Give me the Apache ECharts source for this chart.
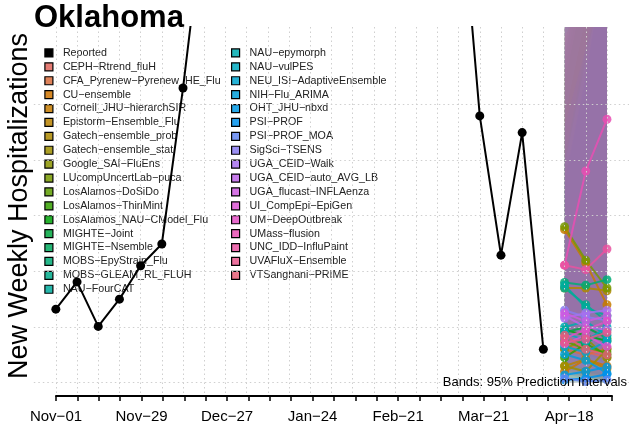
<!DOCTYPE html>
<html>
<head>
<meta charset="utf-8">
<script src="https://cdn.jsdelivr.net/npm/echarts@6/dist/echarts.min.js"></script>
<style>
  html, body { margin: 0; padding: 0; background: #fff; }
  #chart { width: 629px; height: 431px; }
</style>
</head>
<body>
<div id="chart"></div>
<script>
// weekly dates on the x axis (labels every 4 weeks)
var weeks = ['Nov-01', 'Nov-08', 'Nov-15', 'Nov-22', 'Nov-29', 'Dec-06', 'Dec-13', 'Dec-20',
  'Dec-27', 'Jan-03', 'Jan-10', 'Jan-17', 'Jan-24', 'Jan-31', 'Feb-07', 'Feb-14', 'Feb-21',
  'Feb-28', 'Mar-07', 'Mar-14', 'Mar-21', 'Mar-28', 'Apr-04', 'Apr-11', 'Apr-18', 'Apr-25', 'May-02'];

// reported weekly hospitalizations, Nov-01 .. Apr-11
var reported = [132, 181, 101, 150, 210, 249, 529, 845, 1150, 1480, 1620, 1540, 1400, 1500,
  1650, 1560, 1380, 1200, 1050, 925, 479, 229, 449, 60];

var forecastDates = ['Apr-18', 'Apr-25', 'May-02'];

var models = ['CEPH-Rtrend_fluH', 'CFA_Pyrenew-Pyrenew_HE_Flu', 'CU-ensemble', 'Cornell_JHU-hierarchSIR',
  'Epistorm-Ensemble_Flu', 'Gatech-ensemble_prob', 'Gatech-ensemble_stat', 'Google_SAI-FluEns',
  'LUcompUncertLab-puca', 'LosAlamos-DoSiDo', 'LosAlamos-ThinMint', 'LosAlamos_NAU-CModel_Flu',
  'MIGHTE-Joint', 'MIGHTE-Nsemble', 'MOBS-EpyStrain_Flu', 'MOBS-GLEAM_RL_FLUH', 'NAU-FourCAT',
  'NAU-epymorph', 'NAU-vulPES', 'NEU_ISI-AdaptiveEnsemble', 'NIH-Flu_ARIMA', 'OHT_JHU-nbxd',
  'PSI-PROF', 'PSI-PROF_MOA', 'SigSci-TSENS', 'UGA_CEID-Walk', 'UGA_CEID-auto_AVG_LB',
  'UGA_flucast-INFLAenza', 'UI_CompEpi-EpiGen', 'UM-DeepOutbreak', 'UMass-flusion',
  'UNC_IDD-InfluPaint', 'UVAFluX-Ensemble', 'VTSanghani-PRIME'];

// median forecasts per model (Apr-18, Apr-25, May-02)
var median = [
  [70, 55, 45], [60, 50, 62], [20, 42, 30], [275, 215, 140], [30, 42, 25], [170, 170, 165],
  [30, 20, 60], [60, 80, 45], [280, 220, 170], [75, 60, 55], [45, 70, 50], [95, 85, 75],
  [90, 100, 80], [80, 70, 95], [180, 175, 185], [170, 140, 110], [175, 135, 120], [100, 110, 85],
  [90, 75, 100], [65, 55, 75], [51, 40, 17], [14, 20, 28], [5, 8, 15], [8, 2, 5],
  [130, 118, 112], [116, 125, 130], [120, 100, 95], [125, 110, 120], [70, 85, 65], [80, 95, 110],
  [211, 380, 473], [211, 203, 240], [72, 78, 90], [85, 60, 50]];

// 95% prediction interval bounds
var lower95 = [
  [20, 10, 5], [15, 8, 5], [0, 0, 0], [90, 50, 20], [5, 0, 0], [60, 40, 25],
  [0, 0, 0], [10, 5, 0], [100, 60, 30], [20, 10, 5], [5, 5, 0], [30, 15, 5],
  [25, 20, 10], [20, 10, 10], [70, 50, 40], [60, 35, 20], [55, 30, 20], [30, 20, 10],
  [25, 15, 15], [15, 8, 5], [5, 0, 0], [0, 0, 0], [0, 0, 0], [0, 0, 0],
  [40, 25, 15], [35, 25, 20], [40, 20, 10], [40, 25, 20], [15, 10, 5], [20, 15, 10],
  [80, 120, 140], [70, 50, 40], [20, 15, 10], [25, 10, 5]];
var upper95 = [
  [560, 730, 900], [600, 820, 960], [480, 660, 830], [760, 900, 1020], [540, 720, 900], [720, 860, 1000],
  [580, 800, 920], [650, 880, 1020], [800, 960, 1100], [620, 850, 1000], [560, 780, 900], [680, 820, 980],
  [700, 860, 1020], [660, 880, 1040], [760, 920, 1100], [750, 860, 950], [800, 940, 1060], [720, 900, 1060],
  [680, 800, 960], [600, 820, 980], [460, 600, 720], [400, 600, 800], [360, 550, 780], [390, 580, 760],
  [740, 880, 1020], [720, 900, 1080], [700, 820, 940], [760, 920, 1100], [640, 800, 940], [680, 860, 1040],
  [860, 1200, 1500], [900, 1080, 1260], [660, 820, 1000], [620, 700, 780]];

var gridValues = [0, 100, 200, 300, 400, 500];

// hue palette like R's hcl()
function hcl(h, c, l) {
  var hr = h * Math.PI / 180;
  var U = c * Math.cos(hr), V = c * Math.sin(hr);
  var Xn = 95.047, Yn = 100, Zn = 108.883;
  var d = Xn + 15 * Yn + 3 * Zn;
  var un = 4 * Xn / d, vn = 9 * Yn / d;
  var Y = Yn * (l > 8 ? Math.pow((l + 16) / 116, 3) : l / 903.3);
  var u = U / (13 * l) + un, v = V / (13 * l) + vn;
  var X = 9 * Y * u / (4 * v), Z = -X / 3 - 5 * Y + 3 * Y / v;
  var rgb = [3.240479 * X - 1.537150 * Y - 0.498535 * Z,
    -0.969256 * X + 1.875992 * Y + 0.041556 * Z,
    0.055648 * X - 0.204043 * Y + 1.057311 * Z].map(function (t) {
      t = t / 100;
      t = t <= 0.0031308 ? 12.92 * t : 1.055 * Math.pow(t, 1 / 2.4) - 0.055;
      return Math.round(Math.max(0, Math.min(1, t)) * 255);
    });
  return rgb;
}
var colors = models.map(function (m, i) { return hcl(15 + 360 * i / models.length, 95, 58); });
function rgba(c, a) { return 'rgba(' + c[0] + ',' + c[1] + ',' + c[2] + ',' + a + ')'; }

var FONT = 'Liberation Sans';
var fIdx = forecastDates.map(function (d) { return weeks.indexOf(d); });
var dotted = { color: '#cfcfcf', width: 1, type: [1.5, 3] };

var series = [];

// dotted grid
series.push({
  type: 'line', data: [], silent: true, z: 0,
  markLine: {
    silent: true, symbol: 'none', animation: false, label: { show: false },
    lineStyle: dotted,
    data: gridValues.map(function (v) { return { yAxis: v }; })
      .concat(weeks.map(function (w, i) { return { xAxis: i }; }))
  }
});

// prediction bands
series.push({
  type: 'custom', name: 'bands', clip: true, silent: true, z: 1,
  data: models.map(function (m, i) { return [fIdx[0], 0, i]; }),
  encode: { x: 0, y: 1 },
  renderItem: function (params, api) {
    var m = api.value(2);
    var pts = [];
    for (var h = 0; h < 3; h++) pts.push(api.coord([fIdx[h], upper95[m][h]]));
    for (var k = 2; k >= 0; k--) pts.push(api.coord([fIdx[k], lower95[m][k]]));
    return { type: 'polygon', shape: { points: pts }, style: { fill: rgba(colors[m], 0.09) } };
  }
});

function addLine(name, data, color, z) {
  series.push({
    type: 'line', name: name, z: z, data: data, symbol: 'none',
    itemStyle: { color: color },
    lineStyle: { width: 2, color: color }
  });
  series.push({
    type: 'scatter', data: data, z: z + 1, symbol: 'circle', symbolSize: 9, silent: true,
    itemStyle: { color: color, opacity: 1, borderWidth: 0 }
  });
}

models.forEach(function (m, i) {
  addLine(m, fIdx.map(function (x, h) { return [x, median[i][h]]; }), rgba(colors[i], 0.85), 3);
});
addLine('Reported', reported.map(function (v, i) { return [i, v]; }), '#000', 5);

function legendCfg(names, left) {
  return {
    data: names, orient: 'vertical', left: left, top: 46, padding: 0, itemGap: 0,
    itemWidth: 8, itemHeight: 8, icon: 'rect', selectedMode: false,
    itemStyle: { borderColor: '#000', borderWidth: 1.2 },
    formatter: function (n) { return n.replace(/-/g, '\u2212'); },
    textStyle: { fontFamily: FONT, fontSize: 10.7, color: '#222', lineHeight: 13.9, padding: [0, 0, 0, 5] }
  };
}

var chart = echarts.init(document.getElementById('chart'), null, { renderer: 'canvas' });
chart.setOption({
  animation: false,
  backgroundColor: '#fff',
  title: {
    text: 'Oklahoma', left: 34, top: 3, padding: 0,
    textStyle: { fontFamily: FONT, fontSize: 31, fontWeight: 'bold', color: '#000' }
  },
  legend: [
    legendCfg(['Reported'].concat(models.slice(0, 17)), 44.3),
    legendCfg(models.slice(17), 231)
  ],
  grid: [
    { left: 33.8, top: 27, width: 600.5, height: 366 },
    { left: 56, top: 27, width: 556, height: 369 }
  ],
  xAxis: [
    { type: 'value', gridIndex: 0, min: -1.04, max: 27.04, show: false },
    {
      type: 'value', gridIndex: 1, min: 0, max: 26, interval: 1,
      axisLine: { lineStyle: { color: '#000', width: 2 } },
      axisTick: { length: 5, lineStyle: { color: '#000', width: 1.5 } },
      splitLine: { show: false },
      axisLabel: {
        fontFamily: FONT, fontSize: 15, color: '#000', margin: 13,
        formatter: function (v) { return v % 4 === 0 ? weeks[v].replace('-', '\u2212') : ''; }
      }
    }
  ],
  yAxis: [
    { type: 'value', gridIndex: 0, min: -18.5, max: 638.6, show: false },
    { type: 'value', gridIndex: 1, min: 0, max: 1, show: false }
  ],
  graphic: [
    {
      type: 'text', x: 20, y: 206, rotation: Math.PI / 2, z: 10,
      style: { text: 'New Weekly Hospitalizations', fontFamily: FONT, fontSize: 27, fill: '#000',
        textAlign: 'center', textVerticalAlign: 'middle' }
    },
    {
      type: 'text', x: 627, y: 382.7, z: 10,
      style: { text: 'Bands: 95% Prediction Intervals', fontFamily: FONT, fontSize: 13, fill: '#000',
        textAlign: 'right', textVerticalAlign: 'middle' }
    }
  ],
  series: series
});
</script>
</body>
</html>
